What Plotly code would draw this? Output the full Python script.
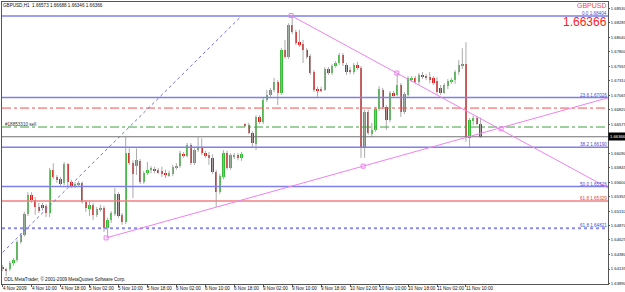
import plotly.graph_objects as go

# ---------------- data ----------------
opens = [1.6417,1.6413,1.6414,1.6424,1.6429,1.6459,1.6471,1.6506,1.6538,1.6530,
         1.6518,1.6521,1.6519,1.6508,1.6581,1.6569,1.6565,1.6558,1.6590,1.6560,
         1.6554,1.6556,1.6558,1.6526,1.6515,1.6522,1.6505,1.6514,1.6517,1.6483,
         1.6496,1.6507,1.6540,1.6504,1.6493,1.6609,1.6592,1.6587,1.6596,1.6560,
         1.6575,1.6580,1.6583,1.6580,1.6578,1.6576,1.6572,1.6574,1.6585,1.6587,
         1.6608,1.6604,1.6623,1.6592,1.6614,1.6619,1.6609,1.6605,1.6601,1.6577,
         1.6543,1.6569,1.6609,1.6584,1.6603,1.6606,1.6600,1.6657,1.6656,1.6643,
         1.6624,1.6670,1.6661,1.6699,1.6707,1.6716,1.6729,1.6710,1.6783,1.6771,
         1.6825,1.6813,1.6796,1.6793,1.6783,1.6772,1.6745,1.6717,1.6716,1.6716,
         1.6751,1.6744,1.6756,1.6761,1.6774,1.6758,1.6749,1.6745,1.6758,1.6753,
         1.6618,1.6678,1.6642,1.6648,1.6683,1.6716,1.6687,1.6665,1.6710,1.6707,
         1.6724,1.6678,1.6707,1.6733,1.6736,1.6729,1.6741,1.6739,1.6737,1.6735,
         1.6730,1.6718,1.6711,1.6722,1.6730,1.6732,1.6745,1.6756,1.6760,1.6634,
         1.6664,1.6668,1.66573]
highs = [1.6420,1.6415,1.6427,1.6432,1.6462,1.6474,1.6510,1.6543,1.6543,1.6535,
         1.6525,1.6525,1.6523,1.6584,1.6592,1.6572,1.6569,1.6594,1.6592,1.6564,
         1.6560,1.6562,1.6561,1.6530,1.6528,1.6525,1.6518,1.6522,1.6520,1.6500,
         1.6511,1.6550,1.6543,1.6508,1.6636,1.6617,1.6597,1.6617,1.6599,1.6579,
         1.6594,1.6587,1.6586,1.6584,1.6586,1.6581,1.6579,1.6589,1.6592,1.6613,
         1.6611,1.6626,1.6626,1.6617,1.6636,1.6634,1.6613,1.6611,1.6607,1.6581,
         1.6574,1.6614,1.6613,1.6609,1.6609,1.6609,1.6611,1.6659,1.6660,1.6646,
         1.6673,1.6673,1.6702,1.6716,1.6719,1.6736,1.6732,1.6786,1.6800,1.6828,
         1.6840,1.6817,1.6817,1.6800,1.6786,1.6776,1.6749,1.6721,1.6721,1.6754,
         1.6754,1.6759,1.6764,1.6778,1.6778,1.6761,1.6754,1.6761,1.6763,1.6756,
         1.6682,1.6682,1.6660,1.6687,1.6722,1.6719,1.6690,1.6714,1.6714,1.6744,
         1.6727,1.6712,1.6739,1.6739,1.6739,1.6744,1.6746,1.6742,1.6746,1.6739,
         1.6737,1.6724,1.6727,1.6734,1.6736,1.6749,1.6766,1.6786,1.6796,1.6668,
         1.6672,1.6672,1.66688]
lows = [1.6410,1.6402,1.6410,1.6419,1.6425,1.6456,1.6468,1.6503,1.6525,1.6505,
        1.6508,1.6512,1.6501,1.6501,1.6565,1.6559,1.6554,1.6555,1.6552,1.6550,
        1.6550,1.6552,1.6524,1.6510,1.6503,1.6496,1.6501,1.6510,1.6476,1.6466,
        1.6491,1.6503,1.6500,1.6488,1.6489,1.6589,1.6533,1.6572,1.6557,1.6557,
        1.6572,1.6575,1.6575,1.6574,1.6569,1.6567,1.6569,1.6570,1.6581,1.6584,
        1.6601,1.6602,1.6589,1.6589,1.6611,1.6606,1.6601,1.6589,1.6574,1.6518,
        1.6540,1.6565,1.6581,1.6581,1.6599,1.6597,1.6596,1.6653,1.6641,1.6619,
        1.6614,1.6658,1.6658,1.6695,1.6704,1.6712,1.6690,1.6707,1.6768,1.6768,
        1.6810,1.6791,1.6788,1.6761,1.6768,1.6741,1.6712,1.6704,1.6712,1.6714,
        1.6741,1.6741,1.6753,1.6758,1.6756,1.6741,1.6742,1.6742,1.6749,1.6601,
        1.6601,1.6640,1.6636,1.6645,1.6680,1.6683,1.6648,1.6661,1.6704,1.6705,
        1.6670,1.6675,1.6704,1.6729,1.6726,1.6724,1.6734,1.6732,1.6727,1.6724,
        1.6709,1.6707,1.6709,1.6717,1.6726,1.6726,1.6741,1.6751,1.6628,1.6619,
        1.6656,1.6656,1.66346]
closes = [1.6413,1.6411,1.6424,1.6429,1.6459,1.6471,1.6506,1.6538,1.6530,1.6518,
          1.6511,1.6518,1.6508,1.6581,1.6569,1.6564,1.6557,1.6591,1.6560,1.6554,
          1.6557,1.6559,1.6526,1.6516,1.6522,1.6505,1.6515,1.6517,1.6483,1.6496,
          1.6508,1.6540,1.6503,1.6493,1.6609,1.6592,1.6574,1.6597,1.6560,1.6575,
          1.6581,1.6584,1.6579,1.6577,1.6575,1.6572,1.6575,1.6586,1.6588,1.6609,
          1.6604,1.6623,1.6592,1.6614,1.6619,1.6609,1.6604,1.6600,1.6577,1.6543,
          1.6570,1.6609,1.6584,1.6606,1.6606,1.6601,1.6607,1.6655,1.6643,1.6626,
          1.6670,1.6661,1.6699,1.6707,1.6716,1.6729,1.6710,1.6783,1.6771,1.6825,
          1.6813,1.6795,1.6792,1.6783,1.6771,1.6744,1.6716,1.6715,1.6715,1.6751,
          1.6744,1.6756,1.6761,1.6774,1.6761,1.6746,1.6745,1.6758,1.6753,1.6618,
          1.6678,1.6643,1.6648,1.6683,1.6717,1.6687,1.6665,1.6710,1.6707,1.6724,
          1.6678,1.6708,1.6736,1.6736,1.6729,1.6741,1.6738,1.6736,1.6734,1.6727,
          1.6712,1.6710,1.6724,1.6731,1.6733,1.6746,1.6758,1.6760,1.6634,1.6665,
          1.6668,1.6658,1.66366]
bar_index = list(range(len(opens)))

time_label_bars = [0, 8, 16, 24, 32, 40, 48, 56, 64, 72, 80, 88, 96, 104, 112, 120, 128]
time_labels = ["4 Nov 2009", "4 Nov 10:00", "4 Nov 18:00", "5 Nov 02:00", "5 Nov 10:00",
               "5 Nov 18:00", "6 Nov 02:00", "6 Nov 10:00", "6 Nov 18:00", "9 Nov 02:00",
               "9 Nov 10:00", "9 Nov 18:00", "10 Nov 02:00", "10 Nov 10:00", "10 Nov 18:00",
               "11 Nov 02:00", "11 Nov 10:00"]

price_tick_text = ["1.63890", "1.64135", "1.64380", "1.64625", "1.64870", "1.65110", "1.65355",
                   "1.65600", "1.65845", "1.66090", "1.66575", "1.66820", "1.67065", "1.67310",
                   "1.67555", "1.67800", "1.68040", "1.68285", "1.68530"]
price_ticks = [float(t) for t in price_tick_text]

fib_levels = [1.68404, 1.67026, 1.66190, 1.65526, 1.64821]
fib_texts = ["0.0 1.68404", "23.6 1.67026", "38.2 1.66190", "50.0 1.65526", "61.8 1.64821"]
red_fib_level = 1.65282
red_fib_text = "61.8 1.65329"
stop_level = 1.6685
order_level = 1.6653
order_text = "#18853310 sell"
bid_price = 1.66366
symbol = "GBPUSD"
header_text = "GBPUSD,H1  1.66573 1.66688 1.66346 1.66366"
copyright_text = "ODL MetaTrader, © 2001-2009 MetaQuotes Software Corp."

trend_a_x = [79.7, 108.9]
trend_a_p = [1.6841, 1.6744]
trend_b_x = [28.6, 99.6]
trend_b_p = [1.6466, 1.6587]
fib_diag_x = [-30.6, 66.0]
fib_diag_p = [1.62565, 1.68404]
marker_x = [79.7, 108.9, 28.6, 99.6, 137.7]
marker_p = [1.6841, 1.6744, 1.6466, 1.6587, 1.6650]

# ---------------- layout constants ----------------
W, H = 625, 292
ML, MR, MT, MB = 2, 17, 2, 8
X_MIN, X_MAX = -0.17, 167.24
Y_MIN, Y_MAX = 1.63882, 1.68639
PLOT_H = H - MT - MB

BULL = "#33BB33"
BEAR = "#E01515"
WICK = "#ABABAB"
FIB_BLUE = "#7F7FEA"
PINK = "#EE82EE"
FONT = "Liberation Sans"
SMALL = 4.6
AXIS_FS = 4.2

fig = go.Figure()

# wicks
wx, wy = [], []
for i, h, l in zip(bar_index, highs, lows):
    wx += [i, i, None]
    wy += [l, h, None]
fig.add_trace(go.Scatter(x=wx, y=wy, mode="lines", line=dict(color=WICK, width=1),
                         hoverinfo="skip", showlegend=False))

# bodies
bases, heights, colors = [], [], []
for o, c in zip(opens, closes):
    lo, hi = min(o, c), max(o, c)
    hgt = max(hi - lo, 0.00017)
    bases.append(lo if hi - lo >= 0.00017 else (lo + hi) / 2 - 0.000085)
    heights.append(hgt)
    colors.append(BULL if c > o else BEAR)
fig.add_trace(go.Bar(x=bar_index, y=heights, base=bases, width=0.65,
                     marker=dict(color=colors, line=dict(width=0)),
                     hoverinfo="skip", showlegend=False))

def hline(level, color, width, dash="solid"):
    fig.add_trace(go.Scatter(x=[X_MIN, X_MAX], y=[level, level], mode="lines",
                             line=dict(color=color, width=width, dash=dash),
                             hoverinfo="skip", showlegend=False))

for k, lv in enumerate(fib_levels):
    if k == len(fib_levels) - 1:
        hline(lv, "#8C8CF0", 2, "dot")
    else:
        hline(lv, FIB_BLUE, 1.5)
hline(red_fib_level, "#F08080", 1.5)
hline(stop_level, "#F05050", 1, "dashdot")
hline(order_level, "#3FA33F", 1, "dashdot")
hline(bid_price, "#707070", 1)

# fib diagonal (dotted)
fig.add_trace(go.Scatter(x=fib_diag_x, y=fib_diag_p, mode="lines",
                         line=dict(color="#6F6FE0", width=1, dash="dot"),
                         hoverinfo="skip", showlegend=False))

def ray(xs, ps):
    slope = (ps[1] - ps[0]) / (xs[1] - xs[0])
    end_p = ps[0] + slope * (X_MAX - xs[0])
    fig.add_trace(go.Scatter(x=[xs[0], X_MAX], y=[ps[0], end_p], mode="lines",
                             line=dict(color=PINK, width=1),
                             hoverinfo="skip", showlegend=False))

ray(trend_a_x, trend_a_p)
ray(trend_b_x, trend_b_p)
fig.add_trace(go.Scatter(x=marker_x, y=marker_p, mode="markers",
                         marker=dict(symbol="square-open", size=4, color=PINK, line=dict(width=1)),
                         hoverinfo="skip", showlegend=False))

ann = []
for lv, t in zip(fib_levels, fib_texts):
    ann.append(dict(x=1, xref="paper", xanchor="right", xshift=0, y=lv, yref="y",
                    yanchor="bottom", yshift=-1, text=t, showarrow=False, borderpad=0,
                    font=dict(family=FONT, size=SMALL, color="#4B4BD0")))
ann.append(dict(x=1, xref="paper", xanchor="right", xshift=0, y=red_fib_level, yref="y",
                yanchor="bottom", yshift=-1, text=red_fib_text, showarrow=False, borderpad=0,
                font=dict(family=FONT, size=SMALL, color="#E04040")))
ann.append(dict(x=0, xref="paper", xanchor="left", xshift=2, y=order_level, yref="y",
                yanchor="bottom", yshift=-1, text=order_text, showarrow=False, borderpad=0,
                font=dict(family=FONT, size=SMALL, color="#333333")))
ann.append(dict(x=0, xref="paper", xanchor="left", xshift=0, y=1, yref="paper",
                yanchor="top", yshift=0, text=header_text, showarrow=False, borderpad=0,
                font=dict(family=FONT, size=SMALL, color="#111111")))
ann.append(dict(x=0, xref="paper", xanchor="left", xshift=1, y=0, yref="paper",
                yanchor="bottom", yshift=1, text=copyright_text, showarrow=False, borderpad=0,
                font=dict(family=FONT, size=SMALL, color="#111111")))
ann.append(dict(x=1, xref="paper", xanchor="right", xshift=0,
                y=1 - (5.5 - MT) / PLOT_H, yref="paper", yanchor="middle",
                text=symbol, showarrow=False, borderpad=0,
                font=dict(family=FONT, size=7, color="#FF4040")))
ann.append(dict(x=1, xref="paper", xanchor="right", xshift=0,
                y=1 - (22.5 - MT) / PLOT_H, yref="paper", yanchor="middle",
                text=f"{bid_price:.5f}", showarrow=False, borderpad=0,
                font=dict(family=FONT, size=12, color="#FF2020")))
ann.append(dict(x=1, xref="paper", xanchor="left", xshift=0, y=bid_price, yref="y",
                yanchor="middle", text=f"{bid_price:.5f}", showarrow=False,
                bgcolor="#000000", borderpad=1,
                font=dict(family=FONT, size=AXIS_FS, color="#FFFFFF")))
for b, t in zip(time_label_bars, time_labels):
    ann.append(dict(x=b, xref="x", xanchor="left", xshift=-1, y=0, yref="paper",
                    yanchor="top", yshift=-1, text=t, showarrow=False, borderpad=0,
                    font=dict(family=FONT, size=SMALL, color="#111111")))

fig.update_layout(
    width=W, height=H,
    margin=dict(l=ML, r=MR, t=MT, b=MB, pad=0, autoexpand=False),
    paper_bgcolor="white", plot_bgcolor="white",
    showlegend=False, bargap=0,
    annotations=ann,
    xaxis=dict(range=[X_MIN, X_MAX], showgrid=False, zeroline=False, automargin=False,
               showline=True, mirror=True, linecolor="#555555", linewidth=1,
               tickvals=time_label_bars, ticks="outside", ticklen=2,
               tickcolor="#555555", showticklabels=False, fixedrange=True),
    yaxis=dict(range=[Y_MIN, Y_MAX], side="right", showgrid=False, zeroline=False,
               automargin=False,
               showline=True, mirror=True, linecolor="#555555", linewidth=1,
               tickvals=price_ticks, ticktext=price_tick_text, ticks="outside",
               ticklen=1, tickcolor="#555555",
               tickfont=dict(family=FONT, size=AXIS_FS, color="#111111"), fixedrange=True),
)

fig.write_html("out.html")
